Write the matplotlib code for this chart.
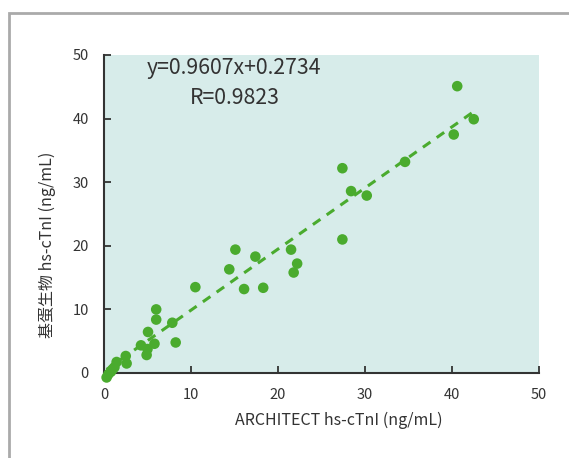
import matplotlib
matplotlib.use("Agg")
import matplotlib.pyplot as plt
import matplotlib.patches as patches
import numpy as np

plt.rcParams['font.family'] = ['Noto Sans CJK SC', 'DejaVu Sans']

# Data
architect_x = [0.3, 0.5, 0.8, 1.0, 1.2, 1.45, 2.5, 2.6, 4.25, 4.9, 5.0, 5.06, 5.8,
               6.0, 6.0, 7.85, 8.24, 10.5, 14.4, 15.1, 16.1, 17.4, 18.3, 21.5,
               21.8, 22.2, 27.4, 27.4, 28.4, 30.2, 34.6, 40.2, 40.6, 42.5]
jidan_y = [-0.7, -0.2, 0.2, 0.6, 0.9, 1.73, 2.67, 1.5, 4.35, 2.83, 3.77, 6.45, 4.6,
           10.0, 8.4, 7.9, 4.8, 13.5, 16.3, 19.4, 13.2, 18.3, 13.4, 19.4,
           15.8, 17.2, 21.0, 32.2, 28.6, 27.9, 33.2, 37.5, 45.1, 39.9]
slope = 0.9607
intercept = 0.2734
r_value = 0.9823
x_ticks = [0, 10, 20, 30, 40, 50]
y_ticks = [0, 10, 20, 30, 40, 50]

fig = plt.figure(figsize=(5.69, 4.58), dpi=100)
fig.patch.set_facecolor('white')

# outer gray frame
frame = patches.Rectangle((9 / 569, -0.05), 1.2, 1 - 13 / 458 + 0.05,
                          transform=fig.transFigure, fill=False,
                          edgecolor='#aaaaaa', linewidth=2, clip_on=False)
fig.patches.append(frame)

ax = fig.add_axes([104 / 569, 1 - 373 / 458, 435 / 569, 318 / 458])
ax.set_facecolor('#d7ecea')

xs = np.array([min(architect_x), max(architect_x)])
ax.plot(xs, slope * xs + intercept, linestyle=(0, (3, 2.5)), color='#4aab2e',
        linewidth=2.2, zorder=2)
ax.scatter(architect_x, jidan_y, s=58, color='#4aab2e', edgecolors='none',
           zorder=3, clip_on=False)

ax.set_xlim(0, 50)
ax.set_ylim(0, 50)
ax.set_xticks(x_ticks)
ax.set_yticks(y_ticks)
ax.tick_params(direction='in', length=5, width=1.3, color='#333333',
               labelsize=10.5, labelcolor='#333333', pad=11)
for s in ['top', 'right']:
    ax.spines[s].set_visible(False)
for s in ['left', 'bottom']:
    ax.spines[s].set_color('#333333')
    ax.spines[s].set_linewidth(1.5)

ax.set_xlabel('ARCHITECT hs-cTnI (ng/mL)', fontsize=11.5, color='#333333')
ax.xaxis.label.set_va('baseline')
ax.xaxis.set_label_coords(0.539, -0.1635)
ax.set_ylabel('基蛋生物 hs-cTnI (ng/mL)', fontsize=11.5, color='#333333')
ax.yaxis.label.set_va('center')
ax.yaxis.set_label_coords(-0.131, 0.403)

ax.text(14.9, 47.0, f'y={slope}x+{intercept}', fontsize=15.3, color='#333333',
        ha='center', va='baseline')
ax.text(15.1, 42.3, f'R={r_value}', fontsize=15.3, color='#333333',
        ha='center', va='baseline')

fig.savefig('out.png', dpi=100)
